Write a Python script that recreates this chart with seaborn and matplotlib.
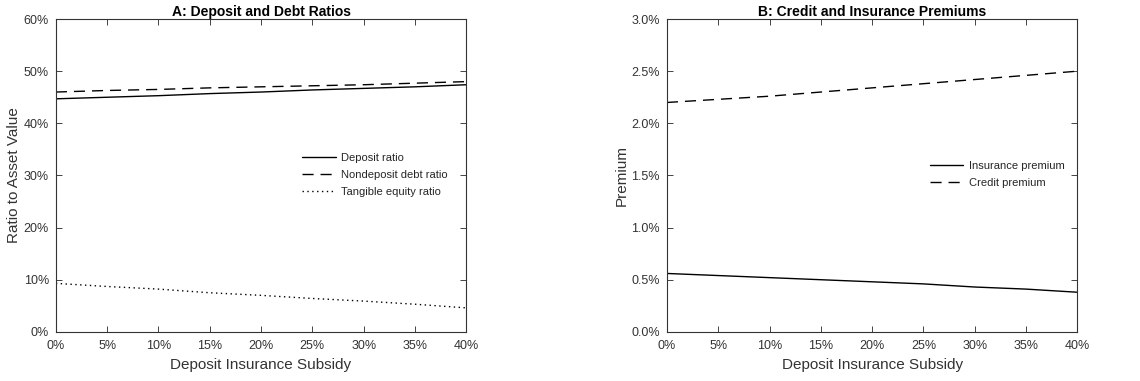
import numpy as np
import pandas as pd
import matplotlib
matplotlib.use("Agg")
import matplotlib.pyplot as plt
import seaborn as sns
from matplotlib.ticker import PercentFormatter

# Values (percent)
subsidy = [0, 5, 10, 15, 20, 25, 30, 35, 40]
deposit_ratio = [44.7, 45.0, 45.3, 45.7, 46.0, 46.4, 46.7, 47.0, 47.4]
nondeposit_ratio = [46.0, 46.3, 46.5, 46.8, 47.0, 47.2, 47.4, 47.7, 48.0]
equity_ratio = [9.3, 8.7, 8.2, 7.5, 7.0, 6.4, 5.9, 5.3, 4.6]
insurance_premium = [0.56, 0.54, 0.52, 0.50, 0.48, 0.46, 0.43, 0.41, 0.38]
credit_premium = [2.20, 2.23, 2.26, 2.30, 2.34, 2.38, 2.42, 2.46, 2.50]

sns.set_theme(style="ticks")
plt.rcParams['font.family'] = ['Liberation Sans', 'DejaVu Sans']
plt.rcParams['axes.edgecolor'] = '#333333'
plt.rcParams['axes.linewidth'] = 0.8

text_col = '#333333'

fig = plt.figure(figsize=(11.4, 3.81), dpi=100)
ax1 = fig.add_axes([0.049, 0.129, 0.360, 0.821])
ax2 = fig.add_axes([0.585, 0.129, 0.360, 0.821])

df_a = pd.DataFrame({
    'subsidy': subsidy * 3,
    'value': deposit_ratio + nondeposit_ratio + equity_ratio,
    'series': ['Deposit ratio'] * 9 + ['Nondeposit debt ratio'] * 9 + ['Tangible equity ratio'] * 9,
})
df_b = pd.DataFrame({
    'subsidy': subsidy * 2,
    'value': insurance_premium + credit_premium,
    'series': ['Insurance premium'] * 9 + ['Credit premium'] * 9,
})

styles = {
    'Deposit ratio': '-',
    'Nondeposit debt ratio': (0, (8, 5)),
    'Tangible equity ratio': (0, (1, 2.5)),
    'Insurance premium': '-',
    'Credit premium': (0, (8, 5)),
}

for name, grp in df_a.groupby('series', sort=False):
    sns.lineplot(data=grp, x='subsidy', y='value', ax=ax1, color='black',
                 linewidth=1.0, linestyle=styles[name], label=name)
for name, grp in df_b.groupby('series', sort=False):
    sns.lineplot(data=grp, x='subsidy', y='value', ax=ax2, color='black',
                 linewidth=1.0, linestyle=styles[name], label=name)

ax1.set_xlim(0, 40)
ax1.set_ylim(0, 60)
ax1.set_yticks(np.arange(0, 61, 10))
ax1.yaxis.set_major_formatter(PercentFormatter(decimals=0))
ax1.set_ylabel('Ratio to Asset Value', fontsize=11, color=text_col, labelpad=2)
ax1.set_title('A: Deposit and Debt Ratios', fontsize=10, fontweight='bold', pad=2, color='black')

ax2.set_xlim(0, 40)
ax2.set_ylim(0, 3.0)
ax2.set_yticks(np.arange(0, 3.01, 0.5))
ax2.yaxis.set_major_formatter(PercentFormatter(decimals=1))
ax2.set_ylabel('Premium', fontsize=11, color=text_col, labelpad=2)
ax2.set_title('B: Credit and Insurance Premiums', fontsize=10, fontweight='bold', pad=2, color='black')

for ax in (ax1, ax2):
    ax.set_xticks(np.arange(0, 41, 5))
    ax.xaxis.set_major_formatter(PercentFormatter(decimals=0))
    ax.set_xlabel('Deposit Insurance Subsidy', fontsize=11, color=text_col, labelpad=4)
    ax.tick_params(direction='in', top=True, right=True, length=4, width=0.6,
                   labelsize=9, labelcolor=text_col)
    ax.tick_params(axis='x', pad=6)
    ax.tick_params(axis='y', pad=5)
    for s in ax.spines.values():
        s.set_visible(True)

ax1.legend(loc='upper left', bbox_to_anchor=(0.59, 0.585), frameon=False,
           fontsize=8, handlelength=3.0, handletextpad=0.5, labelspacing=0.6,
           borderaxespad=0)
ax2.legend(loc='upper left', bbox_to_anchor=(0.63, 0.56), frameon=False,
           fontsize=8, handlelength=3.0, handletextpad=0.5, labelspacing=0.6,
           borderaxespad=0)

fig.savefig('out.png', dpi=100)
